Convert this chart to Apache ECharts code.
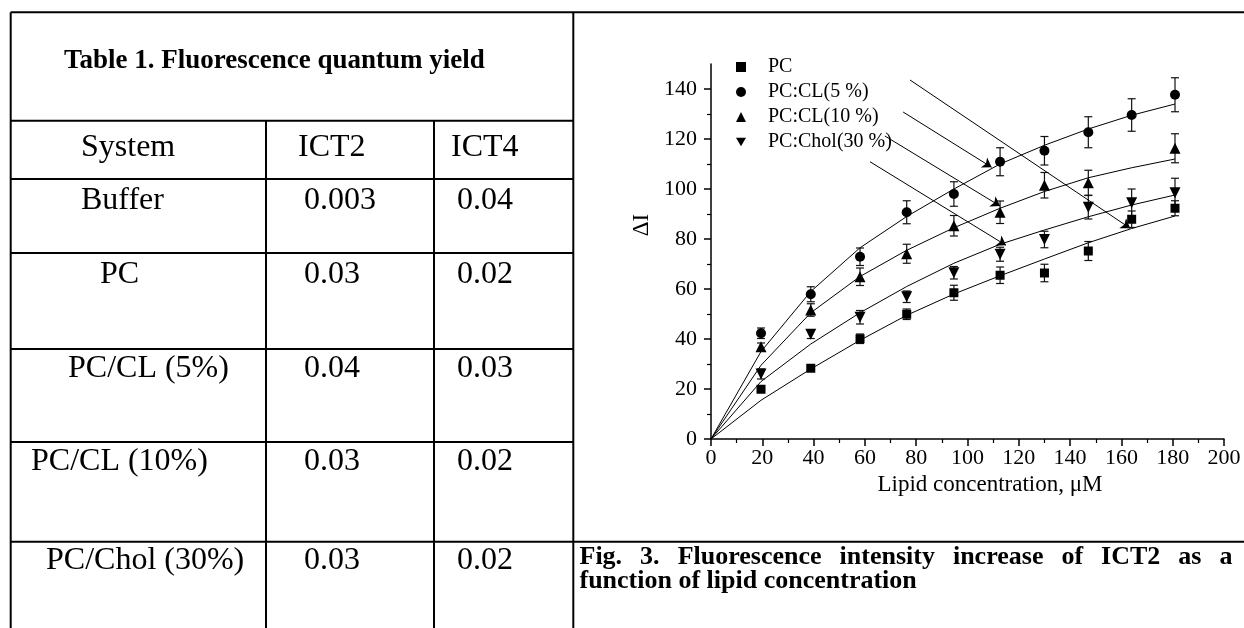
<!DOCTYPE html>
<html><head><meta charset="utf-8">
<script src="https://cdn.jsdelivr.net/npm/echarts@6/dist/echarts.min.js"></script>
<style>html,body{margin:0;padding:0;background:#fff}#c{width:1244px;height:628px}</style>
</head><body><div id="c"></div><script>
// ---------- data ----------
const conc = [19.5, 38.9, 58.1, 76.3, 94.7, 112.7, 130.0, 147.1, 164.0, 180.9];
const seriesNames = ['PC', 'PC:CL(5 %)', 'PC:CL(10 %)', 'PC:Chol(30 %)'];
const yPC    = [19.9, 28.3, 40.1, 49.9, 58.5, 65.5, 66.4, 75.2, 87.9, 92.3];
const ePC    = [1.0, 1.0, 1.9, 2.1, 3.0, 3.3, 3.5, 3.8, 3.3, 3.0];
const yCL5   = [42.3, 57.9, 72.9, 90.7, 98.0, 110.9, 115.3, 122.7, 129.6, 137.7];
const eCL5   = [2.1, 3.0, 3.5, 4.6, 4.9, 5.6, 5.7, 6.2, 6.5, 6.8];
const yCL10  = [36.9, 51.6, 64.9, 74.1, 85.3, 90.7, 101.5, 102.5, null, 116.3];
const eCL10  = [1.5, 2.5, 3.5, 3.8, 4.1, 4.5, 5.1, 5.0, null, 5.8];
const yChol  = [26.0, 41.9, 48.7, 56.9, 66.5, 73.9, 79.8, 92.7, 94.5, 98.5];
const eChol  = [2.0, 1.7, 2.7, 2.3, 2.5, 2.8, 3.3, 4.7, 5.5, 5.8];
const fitX     = [0, 19.5, 38.9, 58.1, 76.3, 94.7, 112.7, 130.0, 147.1, 164.0, 180.9];
const fitPC    = [0, 15.5, 28.0, 39.5, 49.5, 58.0, 65.3, 72.0, 78.5, 84.2, 89.2];
const fitCL5   = [0, 35.0, 59.0, 76.5, 89.0, 100.0, 110.0, 117.5, 124.0, 129.5, 134.0];
const fitCL10  = [0, 29.5, 50.5, 65.0, 75.5, 84.5, 92.3, 99.0, 104.5, 108.5, 112.0];
const fitChol  = [0, 23.0, 38.0, 50.5, 61.0, 70.3, 77.9, 83.6, 88.9, 93.6, 97.6];
// arrows: [start, end] in data coords
const arrows = [
  [[77.6, 143.6], [163.4, 84.3]],
  [[74.9, 130.8], [109.4, 108.7]],
  [[67.8, 121.2], [112.7, 93.2]],
  [[62.0, 110.9], [115.0, 77.5]]
];
const xTicks = [0, 20, 40, 60, 80, 100, 120, 140, 160, 180, 200];
const yTicks = [0, 20, 40, 60, 80, 100, 120, 140];
const yMinorTicks = [10, 30, 50, 70, 90, 110, 130];
const xName = 'Lipid concentration, μM';
const yName = 'ΔI';
// table
const tableTitle = 'Table 1. Fluorescence quantum yield';
const tableHead = ['System', 'ICT2', 'ICT4'];
const systems = ['Buffer', 'PC', 'PC/CL (5%)', 'PC/CL (10%)', 'PC/Chol (30%)'];
const ict2 = ['0.003', '0.03', '0.04', '0.03', '0.03'];
const ict4 = ['0.04', '0.02', '0.03', '0.02', '0.02'];
const captionLines = ['Fig. 3. Fluorescence intensity increase of ICT2 as a', 'function of lipid concentration'];

// ---------- layout ----------
const FF = '"Liberation Serif","Times New Roman",serif';
const black = '#000';
const L = 10.7, R = 1244, T = 12.3, B = 628, DIV = 573.3;
const colX = [266, 434];
const rowLines = [120.7, 179, 253, 349, 442];
const capLine = 541.7;
const sysX = [81, 100, 68, 31, 46];
const rowY = [201, 275, 369, 462, 561];
const headY = 147.5;

const gfx = [];
function ln(x1, y1, x2, y2) {
  gfx.push({type: 'line', silent: true, shape: {x1, y1, x2, y2}, style: {stroke: black, lineWidth: 2}});
}
function tx(text, x, y, font, align) {
  gfx.push({type: 'text', silent: true, x: x, y: y,
    style: {text: text, font: font, fill: black, align: align || 'left', textAlign: align || 'left',
            verticalAlign: 'middle', textVerticalAlign: 'middle'}});
}
ln(L, T, R, T);
ln(L, T, L, B);
ln(DIV, T, DIV, B);
rowLines.forEach(y => ln(L, y, DIV, y));
ln(L, capLine, R, capLine);
colX.forEach(x => ln(x, rowLines[0], x, B));

const bodyFont = '32px ' + FF;
tx(tableTitle, 64, 61, 'bold 27px ' + FF);
tx(tableHead[0], 81, headY, bodyFont);
tx(tableHead[1], 298, headY, bodyFont);
tx(tableHead[2], 451, headY, bodyFont);
systems.forEach((s, i) => {
  tx(s, sysX[i], rowY[i], bodyFont);
  tx(ict2[i], 304, rowY[i], bodyFont);
  tx(ict4[i], 457, rowY[i], bodyFont);
});

// justified caption
const capFont = 'bold 26px ' + FF;
const capLeft = 579.5, capRight = 1232.5;
const mctx = document.createElement('canvas').getContext('2d');
mctx.font = capFont;
const w1 = captionLines[0].split(' ');
const wW = w1.map(w => mctx.measureText(w).width);
const gap = (capRight - capLeft - wW.reduce((a, b) => a + b, 0)) / (w1.length - 1);
let cx = capLeft;
w1.forEach((w, i) => { tx(w, cx, 557, capFont); cx += wW[i] + gap; });
tx(captionLines[1], capLeft, 581, capFont);

// ---------- chart ----------
function pts(ys) { return conc.map((x, i) => ys[i] == null ? null : [x, ys[i]]).filter(Boolean); }
function errData(ys, es) { return conc.map((x, i) => ys[i] == null ? null : [x, ys[i], es[i]]).filter(Boolean); }
function errSeries(ys, es) {
  return {
    type: 'custom', silent: true, z: 3, animation: false,
    data: errData(ys, es), encode: {x: 0, y: 1},
    renderItem: function (params, api) {
      const x = api.value(0), y = api.value(1), e = api.value(2);
      const t = api.coord([x, y + e]), b = api.coord([x, y - e]);
      const hw = 4, st = {stroke: '#111', lineWidth: 1.2};
      return {type: 'group', children: [
        {type: 'line', shape: {x1: t[0], y1: t[1], x2: b[0], y2: b[1]}, style: st},
        {type: 'line', shape: {x1: t[0] - hw, y1: t[1], x2: t[0] + hw, y2: t[1]}, style: st},
        {type: 'line', shape: {x1: b[0] - hw, y1: b[1], x2: b[0] + hw, y2: b[1]}, style: st}
      ]};
    }
  };
}
function fitSeries(ys, extra) {
  return Object.assign({
    type: 'line', data: fitX.map((x, i) => [x, ys[i]]), symbol: 'none', silent: true, z: 2,
    lineStyle: {color: black, width: 1}, emphasis: {disabled: true}, animation: false
  }, extra || {});
}
function scat(name, ys, symbol, size, rot) {
  return {type: 'scatter', name: name, data: pts(ys), symbol: symbol, symbolSize: size, symbolRotate: rot || 0,
    itemStyle: {color: black, opacity: 1}, z: 4, silent: true, animation: false, emphasis: {disabled: true}};
}

const chart = echarts.init(document.getElementById('c'), null, {renderer: 'canvas'});
chart.setOption({
  backgroundColor: '#fff',
  animation: false,
  textStyle: {fontFamily: FF, color: black},
  graphic: {elements: gfx},
  grid: {left: 711, right: 20, top: 64, bottom: 189, containLabel: false, outerBoundsMode: 'none'},
  legend: {
    orient: 'vertical', left: 731, top: 52, itemWidth: 10, itemHeight: 10, itemGap: 5,
    selectedMode: false,
    textStyle: {fontFamily: FF, fontSize: 20, color: black, lineHeight: 20, padding: [0, 0, 0, 17]},
    data: [
      {name: seriesNames[0], icon: 'rect', itemStyle: {color: black}},
      {name: seriesNames[1], icon: 'circle', itemStyle: {color: black}},
      {name: seriesNames[2], icon: 'triangle', itemStyle: {color: black}},
      {name: seriesNames[3], icon: 'path://M0,0L10,0L5,8.66Z', itemStyle: {color: black}}
    ]
  },
  xAxis: {
    type: 'value', min: 0, max: 200, interval: 20,
    axisLine: {show: true, onZero: false, lineStyle: {color: black, width: 1.5}},
    axisTick: {show: true, length: 7, customValues: xTicks, lineStyle: {color: black, width: 1.5}},
    minorTick: {show: true, splitNumber: 2, length: 4, lineStyle: {color: black, width: 1.2}},
    axisLabel: {color: black, fontSize: 22, fontFamily: FF, margin: 8, customValues: xTicks},
    splitLine: {show: false}, minorSplitLine: {show: false},
    name: xName, nameLocation: 'middle', nameGap: 32,
    nameTextStyle: {color: black, fontSize: 23, fontFamily: FF, padding: [0, 0, 0, 45]}
  },
  yAxis: [{
    type: 'value', min: 0, max: 150, interval: 20,
    axisLine: {show: true, onZero: false, lineStyle: {color: black, width: 1.5}},
    axisTick: {show: true, length: 7, customValues: yTicks, lineStyle: {color: black, width: 1.5}},
    axisLabel: {color: black, fontSize: 22, fontFamily: FF, margin: 14, customValues: yTicks},
    splitLine: {show: false},
    name: yName, nameLocation: 'middle', nameRotate: 90, nameGap: 58,
    nameTextStyle: {color: black, fontSize: 23, fontFamily: FF, padding: [0, 0, 0, 53]}
  }, {
    type: 'value', min: 0, max: 150, position: 'left',
    axisLine: {show: false}, axisLabel: {show: false}, splitLine: {show: false},
    axisTick: {show: true, length: 4, customValues: yMinorTicks, lineStyle: {color: black, width: 1.2}}
  }],
  series: [
    fitSeries(fitPC, {
      markLine: {
        silent: true, symbol: ['none', 'arrow'], symbolSize: 9, animation: false,
        label: {show: false}, emphasis: {disabled: true},
        lineStyle: {color: black, width: 1, type: 'solid'},
        data: arrows.map(a => [{coord: a[0]}, {coord: a[1]}])
      }
    }),
    fitSeries(fitCL5), fitSeries(fitCL10), fitSeries(fitChol),
    errSeries(yPC, ePC), errSeries(yCL5, eCL5), errSeries(yCL10, eCL10), errSeries(yChol, eChol),
    scat(seriesNames[0], yPC, 'rect', 9),
    scat(seriesNames[1], yCL5, 'circle', 10),
    scat(seriesNames[2], yCL10, 'triangle', 11),
    scat(seriesNames[3], yChol, 'triangle', 11, 180)
  ]
});
</script></body></html>
